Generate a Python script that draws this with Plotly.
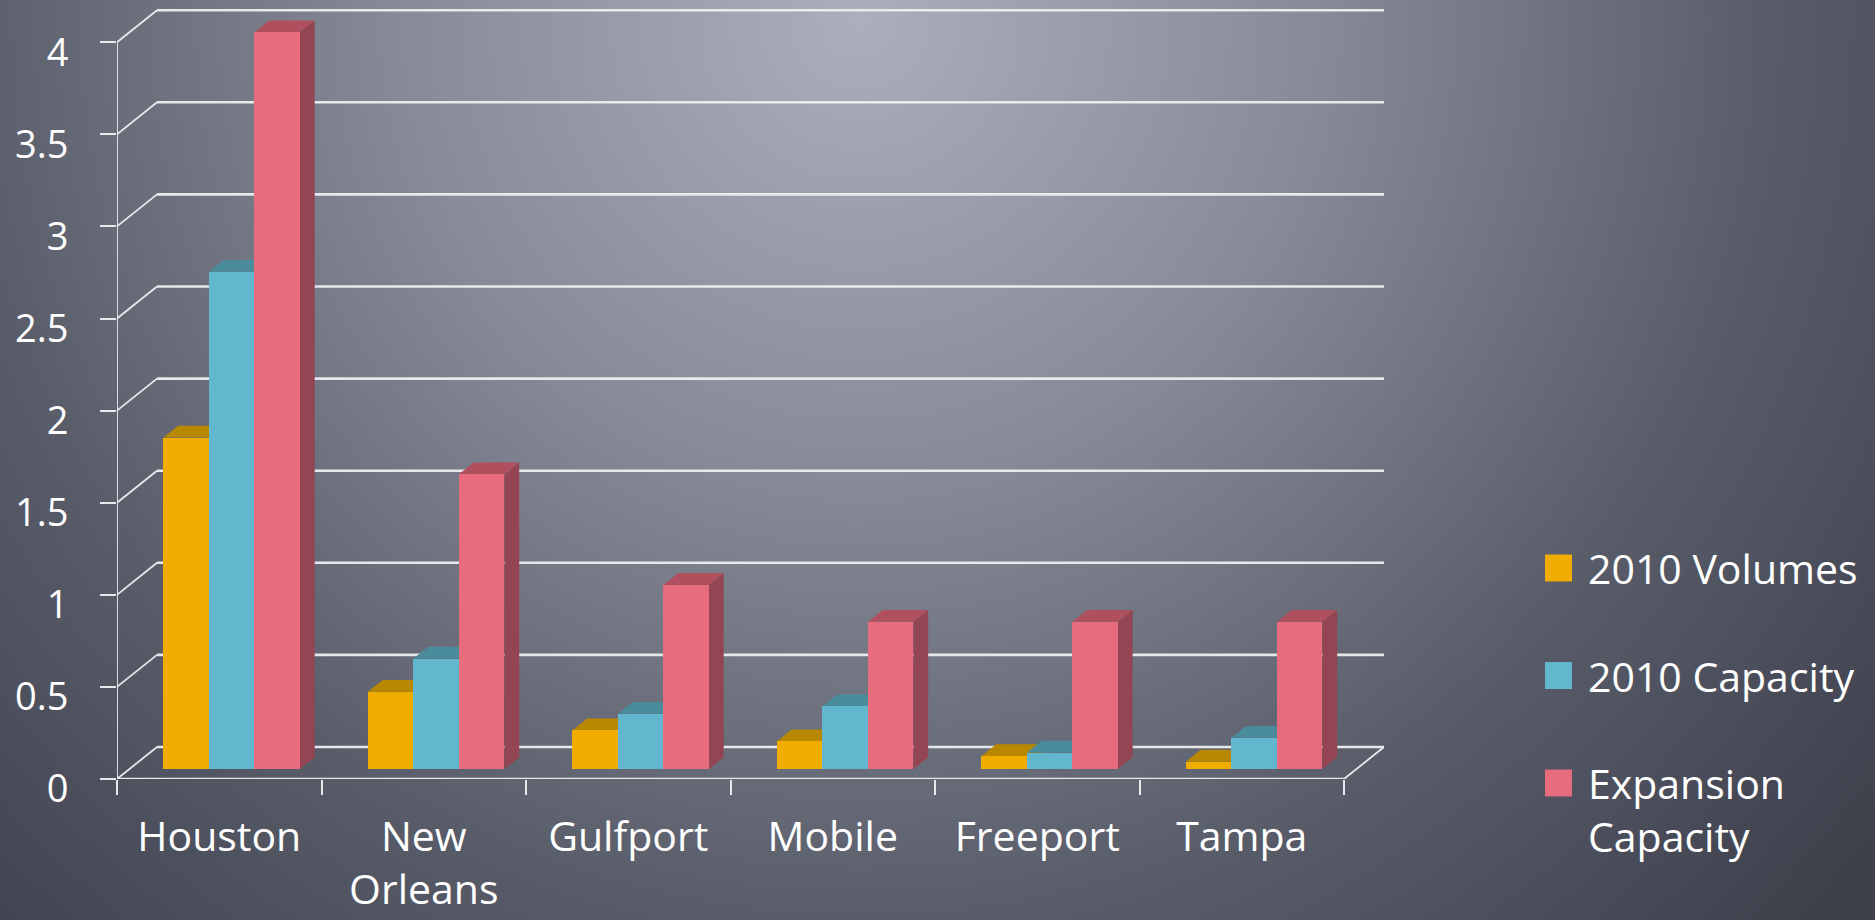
import base64
import textwrap
import plotly.graph_objects as go

# ---------------- data ----------------
categories = ["Houston", "New Orleans", "Gulfport", "Mobile", "Freeport", "Tampa"]
series_names = ["2010 Volumes", "2010 Capacity", "Expansion Capacity"]
volumes_2010 = [1.8, 0.42, 0.21, 0.15, 0.07, 0.04]
capacity_2010 = [2.7, 0.6, 0.3, 0.34, 0.09, 0.17]
expansion_capacity = [4.0, 1.6, 1.0, 0.8, 0.8, 0.8]
y_tick_values = [0, 0.5, 1, 1.5, 2, 2.5, 3, 3.5, 4]
y_tick_labels = ["0", "0.5", "1", "1.5", "2", "2.5", "3", "3.5", "4"]

series_values = [volumes_2010, capacity_2010, expansion_capacity]

# ---------------- style ----------------
front_colors = ["#F0AD00", "#62B6CE", "#E76C7E"]
top_colors = ["#B78800", "#4A8B9C", "#B0505F"]
side_colors = ["#A07800", "#3F7B8B", "#934553"]
grid_color = "rgba(238,238,240,0.95)"
axis_color = "rgba(240,240,242,0.95)"
text_color = "#FFFFFF"
FONT = "Open Sans"

W, H = 1875, 920
L, R, T, B = 117, 491, 5, 141
plot_w = W - L - R
plot_h = H - T - B
wall_dx_px, wall_dy_px = 40, 32          # depth offset of the back wall (px)
px_per_y = 184.2
n_cat = len(categories)
px_per_x = (plot_w - wall_dx_px) / n_cat
wall_dx = wall_dx_px / px_per_x            # in x data units
wall_dy = wall_dy_px / px_per_y            # in y data units
x_min = -0.5
x_front_max = n_cat - 0.5
x_max = x_front_max + wall_dx
y_max = plot_h / px_per_y

bar_w = 0.2225
f0, f1 = 0.31, 0.68                        # bar depth (fraction of wall depth)
bx0, by0 = f0 * wall_dx, f0 * wall_dy
ddx, ddy = (f1 - f0) * wall_dx, (f1 - f0) * wall_dy

fig = go.Figure()
shapes = []

# ----- back wall grid, left wall diagonals, floor -----
for v in y_tick_values:
    shapes.append(dict(type="line", xref="x", yref="y", layer="below",
                       x0=x_min + wall_dx, x1=x_max, y0=v + wall_dy, y1=v + wall_dy,
                       line=dict(color=grid_color, width=2.6)))
    shapes.append(dict(type="line", xref="x", yref="y", layer="below",
                       x0=x_min, x1=x_min + wall_dx, y0=v, y1=v + wall_dy,
                       line=dict(color=grid_color, width=1.8)))
# floor front edge and right edge
shapes.append(dict(type="line", xref="x", yref="y", layer="below",
                   x0=x_min, x1=x_front_max, y0=0, y1=0,
                   line=dict(color=grid_color, width=2.4)))
shapes.append(dict(type="line", xref="x", yref="y", layer="below",
                   x0=x_front_max, x1=x_max, y0=0, y1=wall_dy,
                   line=dict(color=grid_color, width=1.8)))
# front vertical axis line
shapes.append(dict(type="line", xref="x", yref="y", layer="below",
                   x0=x_min, x1=x_min, y0=0, y1=max(y_tick_values),
                   line=dict(color=axis_color, width=1.8)))

# ----- bars (front faces as traces, top / side faces as shapes) -----
for j, (name, vals) in enumerate(zip(series_names, series_values)):
    xs = [i + bx0 + (j - 1) * bar_w for i in range(n_cat)]
    fig.add_trace(go.Bar(
        x=xs, y=vals, base=by0, width=bar_w, name=name,
        marker=dict(color=front_colors[j], line=dict(width=0)),
        showlegend=False, hoverinfo="skip"))
    for xc, v in zip(xs, vals):
        x0, x1 = xc - bar_w / 2, xc + bar_w / 2
        top = by0 + v
        shapes.append(dict(
            type="path", xref="x", yref="y", layer="between",
            path=f"M {x0},{top} L {x1},{top} L {x1 + ddx},{top + ddy} L {x0 + ddx},{top + ddy} Z",
            fillcolor=top_colors[j], line=dict(width=0)))
        shapes.append(dict(
            type="path", xref="x", yref="y", layer="between",
            path=f"M {x1},{by0} L {x1},{top} L {x1 + ddx},{top + ddy} L {x1 + ddx},{by0 + ddy} Z",
            fillcolor=side_colors[j], line=dict(width=0)))

# ----- custom legend -----
def px_to_paper_x(px):
    return (px - L) / plot_w

def px_to_paper_y(py):
    return (H - B - py) / plot_h

annotations = []
leg_x_sq, leg_sq, leg_x_txt = 1545, 27, 1586
leg_y0, leg_pitch = 568, 107.5
leg_fs = 41
for k, name in enumerate(series_names):
    cy = leg_y0 + k * leg_pitch
    shapes.append(dict(type="rect", xref="paper", yref="paper",
                       x0=px_to_paper_x(leg_x_sq), x1=px_to_paper_x(leg_x_sq + leg_sq),
                       y0=px_to_paper_y(cy + leg_sq / 2), y1=px_to_paper_y(cy - leg_sq / 2),
                       fillcolor=front_colors[k], line=dict(width=0)))
    annotations.append(dict(
        xref="paper", yref="paper", x=px_to_paper_x(leg_x_txt),
        y=px_to_paper_y(cy - 0.65 * leg_fs - 3),
        xanchor="left", yanchor="top", align="left", showarrow=False,
        text="<br>".join(textwrap.wrap(name, 13)),
        font=dict(family=FONT, size=leg_fs, color=text_color)))

# ----- background gradient -----
svg = (
    '<svg xmlns="http://www.w3.org/2000/svg" width="1875" height="920" '
    'viewBox="0 0 1875 920" preserveAspectRatio="none"><defs>'
    '<radialGradient id="g" gradientUnits="userSpaceOnUse" cx="860" cy="20" r="1300">'
    '<stop offset="0" stop-color="#abafbd"/><stop offset="0.35" stop-color="#878b98"/>'
    '<stop offset="0.7" stop-color="#585c69"/><stop offset="1" stop-color="#3e414c"/>'
    '</radialGradient></defs><rect width="1875" height="920" fill="url(#g)"/></svg>'
)
bg_src = "data:image/svg+xml;base64," + base64.b64encode(svg.encode()).decode()

fig.update_layout(
    width=W, height=H, margin=dict(l=L, r=R, t=T, b=B, pad=0, autoexpand=False),
    paper_bgcolor="#4a4e5a", plot_bgcolor="rgba(0,0,0,0)",
    barmode="overlay", bargap=0,
    shapes=shapes, annotations=annotations,
    images=[dict(source=bg_src, xref="paper", yref="paper",
                 x=-L / plot_w, y=1 + T / plot_h, sizex=W / plot_w, sizey=H / plot_h,
                 xanchor="left", yanchor="top", sizing="stretch", layer="below")],
    font=dict(family=FONT, color=text_color),
    xaxis=dict(range=[x_min, x_max], showgrid=False, zeroline=False, showline=False,
               automargin=False,
               tickmode="array", tickvals=list(range(n_cat)),
               ticktext=["<br>".join(textwrap.wrap(c, 9)) for c in categories],
               ticks="", tickfont=dict(family=FONT, size=41, color=text_color),
               ticklabelstandoff=30,
               minor=dict(tickmode="array", tickvals=[i - 0.5 for i in range(n_cat + 1)],
                          ticks="outside", ticklen=15, tickwidth=1.8, tickcolor=axis_color,
                          showgrid=False)),
    yaxis=dict(range=[0, y_max], showgrid=False, zeroline=False, showline=False,
               automargin=False,
               tickmode="array", tickvals=y_tick_values, ticktext=y_tick_labels,
               ticks="outside", ticklen=16, tickwidth=1.8, tickcolor=axis_color,
               tickfont=dict(family=FONT, size=38, color=text_color),
               ticklabelstandoff=24, ticklabelshift=10),
)

fig.write_html("out.html", config={"displayModeBar": False},
               post_script="document.body.style.margin='0';document.body.style.overflow='hidden';")
